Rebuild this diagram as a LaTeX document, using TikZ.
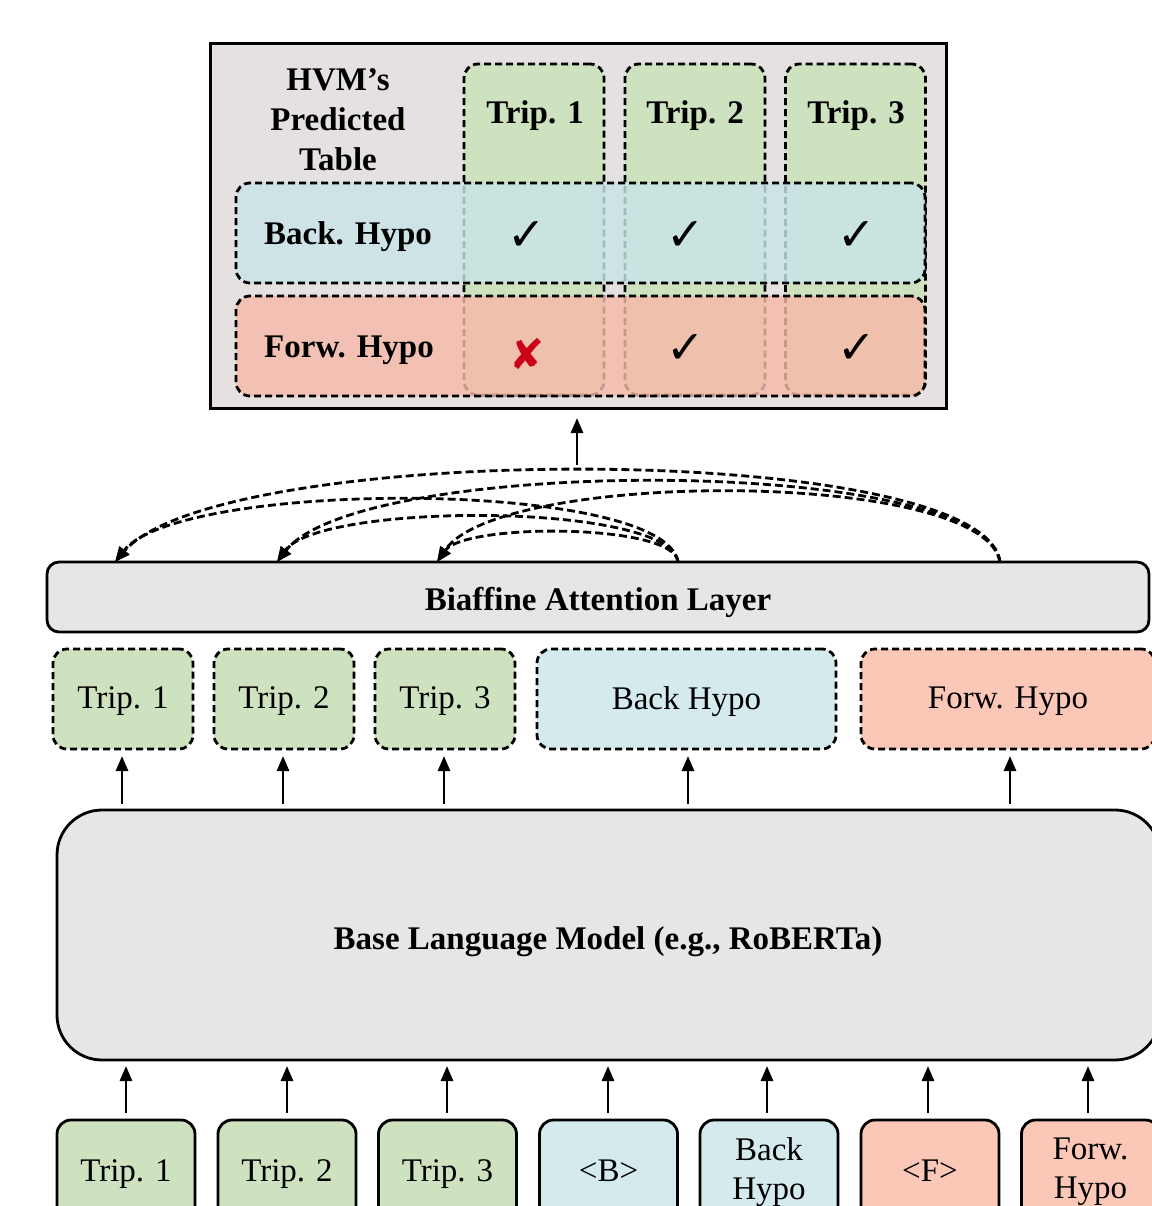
\documentclass[tikz,border=0pt]{standalone}
\usepackage{fontspec}
\setmainfont{Liberation Serif}
\newfontfamily\symf{DejaVu Sans}
\usetikzlibrary{arrows.meta}
\definecolor{cgreen}{RGB}{207,226,191}
\definecolor{cblue}{RGB}{212,234,237}
\definecolor{csalmon}{RGB}{251,200,183}
\definecolor{ctblue}{RGB}{200,228,232}
\definecolor{ctsalmon}{RGB}{247,186,170}
\definecolor{cgray}{RGB}{230,230,230}
\definecolor{ctable}{RGB}{228,225,224}
\definecolor{cred}{RGB}{204,0,24}
\begin{document}
\begin{tikzpicture}[x=1pt,y=-1pt,
  every node/.style={font=\fontsize{33}{39}\selectfont},
  bf/.style={font=\fontsize{33}{40}\selectfont\bfseries},
  box/.style={rectangle, inner sep=0pt, outer sep=0pt, line width=2.8pt, rounded corners=14pt},
  dbox/.style={box, draw, dash pattern=on 7pt off 4pt},
  sbox/.style={box, draw},
  up/.style={-{Triangle[length=15pt,width=12pt]}, line width=2.8pt},
  arcline/.style={-{Triangle[length=15pt,width=12pt]}, line width=2.8pt, dash pattern=on 8pt off 4pt},
  chk/.style={font=\symf\fontsize{46}{48}\selectfont},
  cross/.style={font=\symf\fontsize{42}{48}\selectfont, text=cred}]
\useasboundingbox (0,0) rectangle (1151,1206);

% ---------- table ----------
\node[box, draw, line width=3pt, rounded corners=0pt, fill=ctable,
      minimum width=736pt, minimum height=364pt] (tbl) at (578,226) {};
\node[dbox, fill=cgreen, minimum width=140pt, minimum height=331pt] (c1) at (534,229.5) {};
\node[dbox, fill=cgreen, minimum width=140pt, minimum height=331pt] (c2) at (695,229.5) {};
\node[dbox, fill=cgreen, minimum width=140pt, minimum height=331pt] (c3) at (855.5,229.5) {};
\node[bf] (h1) at (535,116) {Trip. 1};
\node[bf] (h2) at (695,116) {Trip. 2};
\node[bf] (h3) at (856,116) {Trip. 3};
\node[bf, align=center] (title) at (338,120) {HVM’s\\Predicted\\Table};
\node[dbox, fill=ctblue, fill opacity=0.82, draw opacity=1, minimum width=689pt, minimum height=100pt] (rb) at (580.5,233) {};
\node[dbox, fill=ctsalmon, fill opacity=0.82, draw opacity=1, minimum width=689pt, minimum height=100pt] (rf) at (580.5,346) {};
\node[bf] (lb) at (348,237) {Back. Hypo};
\node[bf] (lf) at (349,350) {Forw. Hypo};
\node[chk] (k11) at (527,236) {✓};
\node[chk] (k12) at (686,236) {✓};
\node[chk] (k13) at (857,236) {✓};
\node[cross] (k21) at (527,354) {✘};
\node[chk] (k22) at (686,349) {✓};
\node[chk] (k23) at (857,349) {✓};

% ---------- biaffine ----------
\node[sbox, fill=cgray, rounded corners=12pt, minimum width=1102pt, minimum height=70pt] (bl) at (598,597) {};
\node[bf] (blt) at (598,602) {Biaffine Attention Layer};
\coordinate (atop) at (577,465);
\draw[up, shorten >=10pt] (atop) -- (tbl.south -| atop);

\coordinate (e1) at (115,562);
\coordinate (e2) at (277,562);
\coordinate (e3) at (437,562);
\coordinate (s1) at (678,562);
\coordinate (s2) at (1000,562);
\draw[arcline] (s2) .. controls (985,440) and (220,440) .. (e1);
\draw[arcline] (s2) .. controls (985,455) and (360,455) .. (e2);
\draw[arcline] (s2) .. controls (985,469) and (500,469) .. (e3);
\draw[arcline] (s1) .. controls (665,479) and (180,479) .. (e1);
\draw[arcline] (s1) .. controls (670,502) and (320,502) .. (e2);
\draw[arcline] (s1) .. controls (675,523) and (465,523) .. (e3);

% ---------- middle row ----------
\node[dbox, fill=cgreen, minimum width=140pt, minimum height=100pt, text depth=2pt] (m1) at (123,699) {Trip. 1};
\node[dbox, fill=cgreen, minimum width=140pt, minimum height=100pt, text depth=2pt] (m2) at (284,699) {Trip. 2};
\node[dbox, fill=cgreen, minimum width=140pt, minimum height=100pt, text depth=2pt] (m3) at (445,699) {Trip. 3};
\node[dbox, fill=cblue, minimum width=299pt, minimum height=100pt, text depth=2pt] (m4) at (686.5,699) {Back Hypo};
\node[dbox, fill=csalmon, minimum width=294pt, minimum height=100pt, text depth=2pt] (m5) at (1008,699) {Forw. Hypo};

% ---------- base LM ----------
\node[sbox, fill=cgray, rounded corners=45pt, minimum width=1103pt, minimum height=250pt] (lm) at (608.5,935) {};
\node[bf] (lmt) at (608,942) {Base Language Model (e.g., RoBERTa)};
\foreach \n/\x in {m1/122, m2/283, m3/444, m4/688, m5/1010}
  \draw[up, shorten <=6pt, shorten >=7pt] (lm.north -| \x,0) -- (\n.south -| \x,0);

% ---------- bottom row ----------
\node[sbox, fill=cgreen, minimum width=138pt, minimum height=104pt, text depth=2pt] (b1) at (126,1172) {Trip. 1};
\node[sbox, fill=cgreen, minimum width=138pt, minimum height=104pt, text depth=2pt] (b2) at (287,1172) {Trip. 2};
\node[sbox, fill=cgreen, minimum width=138pt, minimum height=104pt, text depth=2pt] (b3) at (447.5,1172) {Trip. 3};
\node[sbox, fill=cblue, minimum width=138pt, minimum height=104pt, text depth=2pt] (b4) at (608.5,1172) {<B>};
\node[sbox, fill=cblue, minimum width=138pt, minimum height=104pt, align=center] (b5) at (769,1172) {Back\\Hypo};
\node[sbox, fill=csalmon, minimum width=138pt, minimum height=104pt, text depth=2pt] (b6) at (930,1172) {<F>};
\node[sbox, fill=csalmon, minimum width=138pt, minimum height=104pt, align=center] (b7) at (1090.5,1172) {Forw.\\Hypo};
\foreach \n/\x in {b1/126, b2/287, b3/447, b4/608, b5/767, b6/928, b7/1088}
  \draw[up, shorten <=7pt, shorten >=6pt] (\n.north -| \x,0) -- (lm.south -| \x,0);
\end{tikzpicture}
\end{document}
